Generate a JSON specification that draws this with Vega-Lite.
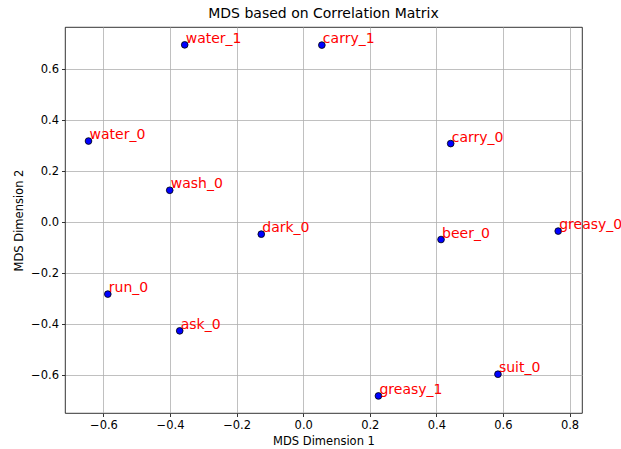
{
  "$schema": "https://vega.github.io/schema/vega-lite/v6.json",
  "autosize": "none",
  "width": 517,
  "height": 386,
  "padding": {"left": 65, "top": 27, "right": 39, "bottom": 36},
  "background": "white",
  "config": {
    "font": "DejaVu Sans",
    "view": {"stroke": "#000000", "strokeWidth": 0.8},
    "title": {"fontSize": 14, "fontWeight": "normal", "color": "#000000", "offset": 6},
    "axis": {
      "domain": false,
      "grid": true,
      "gridColor": "#b0b0b0",
      "gridWidth": 0.8,
      "tickColor": "#000000",
      "tickSize": 3.5,
      "tickWidth": 0.8,
      "labelFontSize": 11.5,
      "labelColor": "#000000",
      "titleFontSize": 11.5,
      "titleFontWeight": "normal",
      "titleColor": "#000000",
      "labelPadding": 3
    }
  },
  "title": "MDS based on Correlation Matrix",
  "data": {
    "values": [
      {"label": "water_1", "d1": -0.356, "d2": 0.695},
      {"label": "carry_1", "d1": 0.056, "d2": 0.694},
      {"label": "water_0", "d1": -0.645, "d2": 0.318},
      {"label": "wash_0", "d1": -0.401, "d2": 0.125},
      {"label": "carry_0", "d1": 0.443, "d2": 0.308},
      {"label": "dark_0", "d1": -0.126, "d2": -0.047},
      {"label": "beer_0", "d1": 0.414, "d2": -0.068},
      {"label": "greasy_0", "d1": 0.766, "d2": -0.035},
      {"label": "run_0", "d1": -0.587, "d2": -0.282},
      {"label": "ask_0", "d1": -0.371, "d2": -0.426},
      {"label": "greasy_1", "d1": 0.226, "d2": -0.681},
      {"label": "suit_0", "d1": 0.585, "d2": -0.596}
    ]
  },
  "encoding": {
    "x": {
      "field": "d1", "type": "quantitative",
      "scale": {"domain": [-0.7156, 0.8375], "nice": false, "zero": false},
      "axis": {"title": "MDS Dimension 1", "values": [-0.6, -0.4, -0.2, 0.0, 0.2, 0.4, 0.6, 0.8], "format": ".1f", "titlePadding": 4}
    },
    "y": {
      "field": "d2", "type": "quantitative",
      "scale": {"domain": [-0.748, 0.765], "nice": false, "zero": false},
      "axis": {"title": "MDS Dimension 2", "values": [-0.6, -0.4, -0.2, 0.0, 0.2, 0.4, 0.6], "format": ".1f", "titlePadding": 6}
    }
  },
  "layer": [
    {
      "mark": {"type": "point", "shape": "circle", "filled": true, "fill": "#0000ff", "stroke": "#000000", "strokeWidth": 0.8, "size": 45, "opacity": 1}
    },
    {
      "mark": {"type": "text", "align": "left", "baseline": "alphabetic", "dx": 1, "dy": -2, "fontSize": 14, "color": "#ff0000"},
      "encoding": {"text": {"field": "label"}}
    }
  ]
}
